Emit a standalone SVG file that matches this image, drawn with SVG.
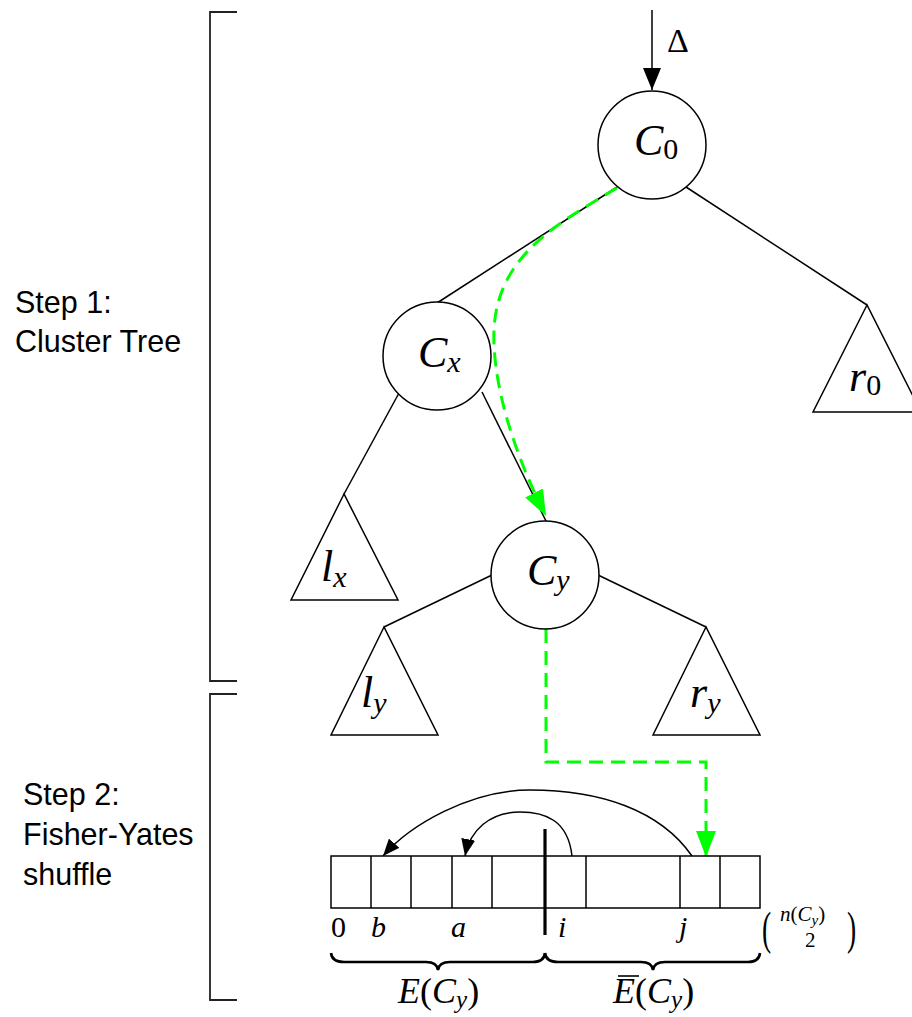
<svg xmlns="http://www.w3.org/2000/svg" width="912" height="1017" viewBox="0 0 912 1017">
  <style>
    .ln { fill: none; stroke: #000; stroke-width: 1.5; }
    .node { fill: #fff; stroke: #000; stroke-width: 1.5; }
    .tri { fill: #fff; stroke: #000; stroke-width: 1.5; stroke-linejoin: miter; }
    .brk { fill: none; stroke: #222; stroke-width: 1.8; }
    .green { fill: none; stroke: #00ff00; stroke-width: 3; stroke-dasharray: 14 8; }
    .math { font-family: "Liberation Serif", "DejaVu Serif", serif; font-style: italic; fill: #000; }
    .rm { font-family: "Liberation Serif", "DejaVu Serif", serif; font-style: normal; fill: #000; }
    .lbl { font-family: "Liberation Sans", "DejaVu Sans", sans-serif; font-size: 30.5px; fill: #000; }
    .cell { fill: #fff; stroke: #000; stroke-width: 1.5; }
  </style>
  <defs>
    <marker id="ahBig" markerUnits="userSpaceOnUse" markerWidth="24" markerHeight="18" refX="22" refY="9" orient="auto">
      <path d="M0,0 L22,9 L0,18 Z" fill="#000"/>
    </marker>
    <marker id="ahSmall" markerUnits="userSpaceOnUse" markerWidth="18" markerHeight="14" refX="17" refY="7" orient="auto">
      <path d="M0,0 L17,7 L0,14 Z" fill="#000"/>
    </marker>
    <marker id="ahGreen" markerUnits="userSpaceOnUse" markerWidth="28" markerHeight="20" refX="26" refY="10" orient="auto">
      <path d="M0,0 L26,10 L0,20 Z" fill="#00ff00"/>
    </marker>
  </defs>

  <!-- step brackets and captions -->
  <g id="step1">
    <path class="brk" d="M237,12 H210 V681 H237"/>
    <text class="lbl" x="15" y="313">Step 1:</text>
    <text class="lbl" x="15" y="352">Cluster Tree</text>
  </g>
  <g id="step2">
    <path class="brk" d="M237,694 H210 V1000 H237"/>
    <text class="lbl" x="23" y="805">Step 2:</text>
    <text class="lbl" x="23" y="845">Fisher-Yates</text>
    <text class="lbl" x="23" y="885">shuffle</text>
  </g>

  <!-- tree edges -->
  <g id="connectors">
    <line class="ln" x1="652" y1="10" x2="652" y2="90" marker-end="url(#ahBig)"/>
    <line class="ln" x1="617" y1="187" x2="437" y2="303"/>
    <line class="ln" x1="686" y1="187" x2="867" y2="305"/>
    <line class="ln" x1="399" y1="393" x2="344" y2="494"/>
    <line class="ln" x1="482" y1="392" x2="546" y2="521"/>
    <line class="ln" x1="492" y1="575" x2="384" y2="627"/>
    <line class="ln" x1="598" y1="575" x2="706" y2="627"/>
    <!-- swap arcs over the array -->
    <path class="ln" d="M692,856 C660,810 600,790 530,790 C470,790 410,825 383,856" marker-end="url(#ahSmall)"/>
    <path class="ln" d="M572,856 C568,820 545,812 520,812 C490,812 470,830 465,856" marker-end="url(#ahSmall)"/>
    <!-- highlighted traversal path -->
    <path class="green" d="M617,188 C560,222 497,255 494,330 C492,380 512,450 546,516" marker-end="url(#ahGreen)"/>
    <path class="green" d="M546,629 V762 H706 V857" marker-end="url(#ahGreen)"/>
  </g>
  <text class="rm" x="667" y="52" font-size="34">Δ</text>

  <!-- cluster nodes -->
  <g id="C0">
    <circle class="node" cx="652" cy="145" r="54"/>
    <text class="math" x="634" y="155" font-size="44">C<tspan class="rm" font-size="30" dy="4">0</tspan></text>
  </g>
  <g id="Cx">
    <circle class="node" cx="437" cy="356" r="54"/>
    <text class="math" x="418" y="367" font-size="44">C<tspan font-size="30" dy="5">x</tspan></text>
  </g>
  <g id="Cy">
    <circle class="node" cx="545" cy="575" r="54"/>
    <text class="math" x="527" y="585" font-size="44">C<tspan font-size="30" dy="5">y</tspan></text>
  </g>

  <!-- subtrees -->
  <g id="r0">
    <polygon class="tri" points="867,305 813,412 921,412"/>
    <text class="math" x="849" y="391" font-size="44">r<tspan class="rm" font-size="30" dy="4">0</tspan></text>
  </g>
  <g id="lx">
    <polygon class="tri" points="344,494 291,600 398,600"/>
    <text class="math" x="321" y="581" font-size="44">l<tspan font-size="30" dy="6">x</tspan></text>
  </g>
  <g id="ly">
    <polygon class="tri" points="384,627 331,735 438,735"/>
    <text class="math" x="361" y="707" font-size="44">l<tspan font-size="30" dy="6">y</tspan></text>
  </g>
  <g id="ry">
    <polygon class="tri" points="706,627 653,735 760,735"/>
    <text class="math" x="690" y="707" font-size="44">r<tspan font-size="30" dy="6">y</tspan></text>
  </g>

  <!-- edge array -->
  <g id="array">
    <rect class="cell" x="331" y="856" width="429" height="52"/>
    <path class="ln" d="M371,856 V908 M411,856 V908 M452,856 V908 M492,856 V908 M586,856 V908 M680,856 V908 M720,856 V908"/>
    <line x1="545" y1="829" x2="545" y2="935" stroke="#000" stroke-width="3.2"/>
    <text class="rm" x="331" y="937" font-size="30">0</text>
    <text class="math" x="371" y="937" font-size="30">b</text>
    <text class="math" x="451" y="937" font-size="30">a</text>
    <text class="math" x="558" y="937" font-size="30">i</text>
    <text class="math" x="679" y="937" font-size="30">j</text>
    <!-- binomial upper bound -->
    <text class="rm" x="762" y="944" font-size="46" transform="translate(762 944) scale(0.6 1) translate(-762 -944)">(</text>
    <text class="math" x="780" y="921" font-size="21">n<tspan class="rm">(</tspan>C<tspan font-size="15" dy="4">y</tspan><tspan class="rm" dy="-4">)</tspan></text>
    <text class="rm" x="805" y="947" font-size="21">2</text>
    <text class="rm" x="847" y="944" font-size="46" transform="translate(847 944) scale(0.6 1) translate(-847 -944)">)</text>
  </g>

  <!-- partition braces -->
  <g id="braces">
    <path fill="none" stroke="#000" stroke-width="2.6" d="M331,953 Q332,962 344,962 L426,962 Q437,962 438,970 Q439,962 450,962 L533,962 Q544,962 545,953"/>
    <path fill="none" stroke="#000" stroke-width="2.6" d="M545,953 Q546,962 558,962 L641,962 Q652,962 653,970 Q654,962 665,962 L748,962 Q759,962 760,953"/>
    <text class="math" x="398" y="1003" font-size="36">E<tspan class="rm">(</tspan>C<tspan font-size="25" dy="5">y</tspan><tspan class="rm" dy="-5">)</tspan></text>
    <text class="math" x="613" y="1003" font-size="36">E<tspan class="rm">(</tspan>C<tspan font-size="25" dy="5">y</tspan><tspan class="rm" dy="-5">)</tspan></text>
    <line x1="618" y1="976" x2="639" y2="976" stroke="#000" stroke-width="1.6"/>
  </g>
</svg>
